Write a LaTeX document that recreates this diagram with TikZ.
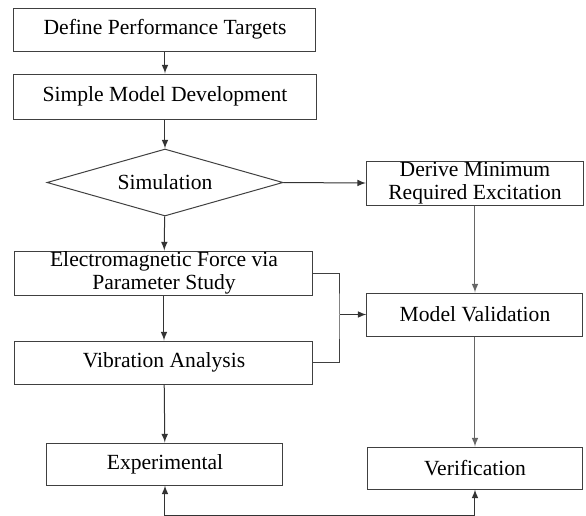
\documentclass[tikz,border=0pt]{standalone}
\usepackage{fontspec}
\setmainfont{Liberation Serif}
\usepackage{tikz}
\usetikzlibrary{shapes.geometric}
\tikzset{
	block/.style    = {shape=rectangle, draw=black!75, line width=0.5pt,
		align=center, inner sep=0pt, font=\fontsize{10.8}{11.5}\selectfont},
	decision/.style = {shape=diamond, draw=black!75, line width=0.5pt,
		aspect=3.5, inner sep=0pt, font=\fontsize{10.8}{11.5}\selectfont},
	link/.style     = {draw=black!80, line width=0.5pt, -latex}
}

\begin{document}
\begin{tikzpicture}
	[
	x = 0.5pt,
	y = -0.5pt,
	>= latex
	]
	\useasboundingbox (0,0) rectangle (586,516);
	% left column
	\node [block, minimum width=151pt, minimum height=21.5pt] (targets) at (165,29.5) {Define Performance Targets};
	\node [block, minimum width=151.5pt, minimum height=22.5pt] (model) at (165,96.5) {Simple Model Development};
	\node [decision, minimum width=118pt, minimum height=33.5pt] (sim) at (165,182.5) {Simulation};
	\node [block, minimum width=149pt, minimum height=22pt] (emforce) at (164,273) {Electromagnetic Force via\\Parameter Study};
	\node [block, minimum width=149pt, minimum height=21.5pt] (vib) at (164,362.5) {Vibration Analysis};
	\node [block, minimum width=118pt, minimum height=21pt] (exper) at (165,464) {Experimental};
	% right column
	\node [block, minimum width=108.5pt, minimum height=22pt] (derive) at (475,183) {Derive Minimum\\Required Excitation};
	\node [block, minimum width=108pt, minimum height=21.5pt] (valid) at (475,314.5) {Model Validation};
	\node [block, minimum width=107.5pt, minimum height=21pt] (verif) at (475,468) {Verification};
	\coordinate (join) at (340,314.5);
	\coordinate (loopL) at (165,515);
	\coordinate (loopR) at (475,515);

	\draw [link] (targets) -- (model);
	\draw [link] (model) -- (sim);
	\draw [link] (sim) -- (emforce);
	\draw [link] (emforce) -- (vib);
	\draw [link] (vib) -- (exper);
	\draw [link] (sim.east) -- (derive.west);
	\draw [link, draw=black!60] (derive) -- (valid);
	\draw [link, draw=black!60] (valid) -- (verif);
	% both branches merge into the validation step
	\draw [draw=black!75, line width=0.5pt] (emforce.east) -| (join) |- (vib.east);
	\draw [link] (join) -- (valid.west);
	% feedback between experiment and verification
	\draw [link, latex-latex] (exper.south) -- (loopL) -- (loopR) -- (verif.south);
\end{tikzpicture}
\end{document}
